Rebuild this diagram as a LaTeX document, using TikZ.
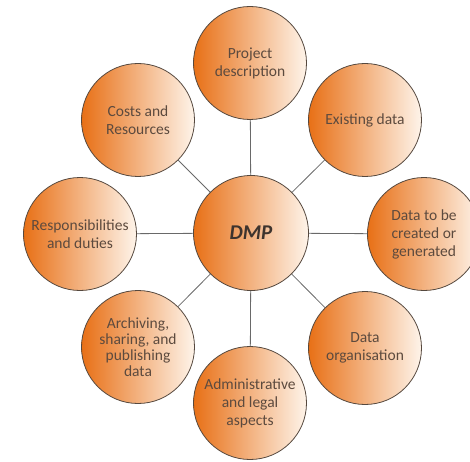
\documentclass[tikz,border=0pt]{standalone}
\usepackage{fontspec}
\setmainfont{Carlito}
\usepackage{tikz}
\usetikzlibrary{shapes,positioning}
\usepackage{xcolor}
\definecolor{dmporange}{RGB}{232,112,22}
\definecolor{dmppeach}{RGB}{254,244,234}
\definecolor{dmpedge}{RGB}{85,72,62}
\definecolor{dmptext}{RGB}{92,74,62}
\definecolor{dmpdark}{RGB}{62,52,46}
\definecolor{dmpline}{RGB}{105,105,105}
\tikzstyle{topic} = [circle, minimum size=113pt, inner sep=0pt, align=center, draw=dmpedge, line width=0.8pt, left color=dmporange, right color=dmppeach, text=dmptext, font=\fontsize{15.5}{18}\selectfont]
\tikzstyle{hub} = [topic, minimum size=115pt, text=dmpdark, font=\fontsize{21}{26}\selectfont\bfseries\itshape]
\tikzstyle{spoke} = [line width=0.8pt, color=dmpline]

\begin{document}
\begin{tikzpicture}[x=1pt, y=1pt]
\useasboundingbox (0,0) rectangle (470,461);
% Centre and topics
\node (dmp) [hub] at (251,228) {DMP};
\node (proj) [topic] at (250,398) {Project\\description};
\node (exist) [topic] at (365,341) {Existing data};
\node (gen) [topic] at (424,227) {Data to be\\created or\\generated};
\node (org) [topic] at (365,113) {Data\\organisation};
\node (admin) [topic] at (250,58) {Administrative\\and legal\\aspects};
\node (arch) [topic, font=\fontsize{15.5}{16}\selectfont] at (138,114) {Archiving,\\sharing, and\\publishing\\data};
\node (resp) [topic] at (80,227) {Responsibilities\\and duties};
\node (cost) [topic] at (138,341) {Costs and\\Resources};

% Spokes
\foreach \t in {proj,exist,gen,org,admin,arch,resp,cost}
  \draw[spoke] (dmp) -- (\t);
\end{tikzpicture}
\end{document}
